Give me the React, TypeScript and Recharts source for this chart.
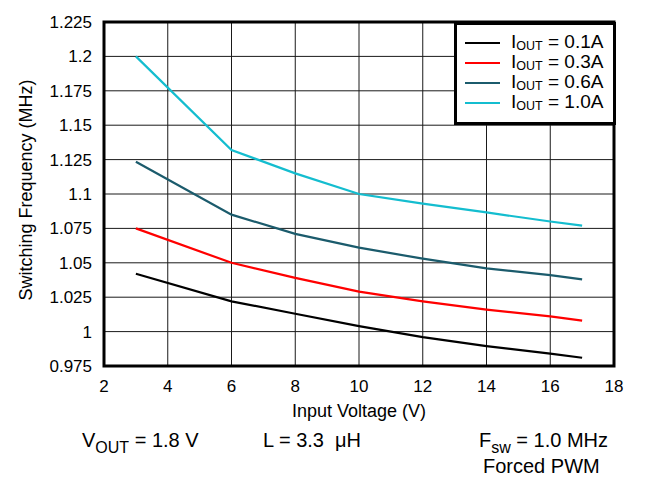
import React from 'react';
import { LineChart, Line, XAxis, YAxis, CartesianGrid, Legend, ReferenceArea } from 'recharts';

// input voltage (V) where each curve was sampled
const voltages = [3, 6, 8, 10, 12, 14, 16, 17];

// switching frequency (MHz) per load current
const iout01 = [1.042, 1.022, 1.013, 1.004, 0.996, 0.9895, 0.984, 0.981];
const iout03 = [1.075, 1.05, 1.039, 1.029, 1.022, 1.016, 1.011, 1.008];
const iout06 = [1.1235, 1.085, 1.071, 1.061, 1.053, 1.046, 1.041, 1.038];
const iout10 = [1.2, 1.132, 1.115, 1.1, 1.093, 1.0866, 1.08, 1.077];

const xTicks = [2, 4, 6, 8, 10, 12, 14, 16, 18];
const yTicks = [0.975, 1, 1.025, 1.05, 1.075, 1.1, 1.125, 1.15, 1.175, 1.2, 1.225];

const series = [
  { key: 'a', name: '0.1A', color: '#000000', values: iout01 },
  { key: 'b', name: '0.3A', color: '#ff0000', values: iout03 },
  { key: 'c', name: '0.6A', color: '#1b5b6c', values: iout06 },
  { key: 'd', name: '1.0A', color: '#14bdcf', values: iout10 },
];

const chartData = voltages.map((v, i) => {
  const row: any = { v };
  series.forEach(s => { row[s.key] = s.values[i]; });
  return row;
});

const FONT = '"Liberation Sans", Arial, sans-serif';

const renderLegend = (props: any) => {
  const { payload } = props;
  return (
    <div style={{
      boxSizing: 'border-box', width: 162, height: 103, border: '3px solid #000',
      background: '#fff', paddingTop: 8, fontFamily: FONT,
    }}>
      {payload.map((entry: any) => (
        <div key={entry.value} style={{ display: 'flex', alignItems: 'center', height: 20 }}>
          <div style={{ width: 35, height: 2, background: entry.color, marginLeft: 8, marginRight: 11 }} />
          <span style={{ fontSize: 19, lineHeight: '20px', whiteSpace: 'nowrap' }}>
            I<span style={{ fontSize: 12.5, position: 'relative', top: 2 }}>OUT</span> = {entry.value}
          </span>
        </div>
      ))}
    </div>
  );
};

const YLabel = () => (
  <text x={26} y={190} transform="rotate(-90 26 190)" textAnchor="middle"
    dominantBaseline="central" fontSize={18} fill="#000" fontFamily={FONT}>
    Switching Frequency (MHz)
  </text>
);

const XLabel = () => (
  <text x={359} y={417} textAnchor="middle" fontSize={18} fill="#000" fontFamily={FONT}>
    Input Voltage (V)
  </text>
);

const note = { position: 'absolute' as const, fontSize: 20, lineHeight: '20px', whiteSpace: 'nowrap' as const };
const sub = { fontSize: 16, position: 'relative' as const, top: 6 };

export default function App() {
  return (
    <div style={{ position: 'relative', width: 651, height: 502, margin: -8, fontFamily: FONT, background: '#fff' }}>
      <div style={{ position: 'absolute', left: 0, top: 3, width: 651, height: 2, background: '#8a8a8a' }} />
      <LineChart width={651} height={502} data={chartData}
        margin={{ top: 22, right: 37, left: 0, bottom: 0 }}>
        <CartesianGrid stroke="#1a1a1a" strokeWidth={1} />
        <XAxis dataKey="v" type="number" domain={[2, 18]} ticks={xTicks} height={136}
          tickLine={false} axisLine={false} tickSize={0} tickMargin={14}
          tick={{ fill: '#000', fontSize: 17, fontFamily: FONT }} label={<XLabel />} />
        <YAxis type="number" domain={[0.975, 1.225]} ticks={yTicks} width={104}
          tickLine={false} axisLine={false} tickSize={0} tickMargin={12} interval={0}
          tick={{ fill: '#000', fontSize: 17, fontFamily: FONT }} label={<YLabel />} />
        <ReferenceArea x1={2} x2={18} y1={0.975} y2={1.225} fill="none" stroke="#000" strokeWidth={3} />
        {series.map(s => (
          <Line key={s.key} dataKey={s.key} name={s.name} type="linear" stroke={s.color}
            strokeWidth={2.2} dot={false} activeDot={false} isAnimationActive={false} />
        ))}
        <Legend layout="vertical" align="center" verticalAlign="middle" content={renderLegend}
          wrapperStyle={{ left: 454, top: 22, width: 162, height: 103 }} />
      </LineChart>
      <div style={{ ...note, left: 82, top: 430 }}>
        V<span style={sub}>OUT</span> = 1.8 V
      </div>
      <div style={{ ...note, left: 263, top: 430 }}>L = 3.3 &nbsp;μH</div>
      <div style={{ ...note, left: 479, top: 430 }}>
        F<span style={sub}>sw</span> = 1.0 MHz
      </div>
      <div style={{ ...note, left: 483, top: 456 }}>Forced PWM</div>
    </div>
  );
}
